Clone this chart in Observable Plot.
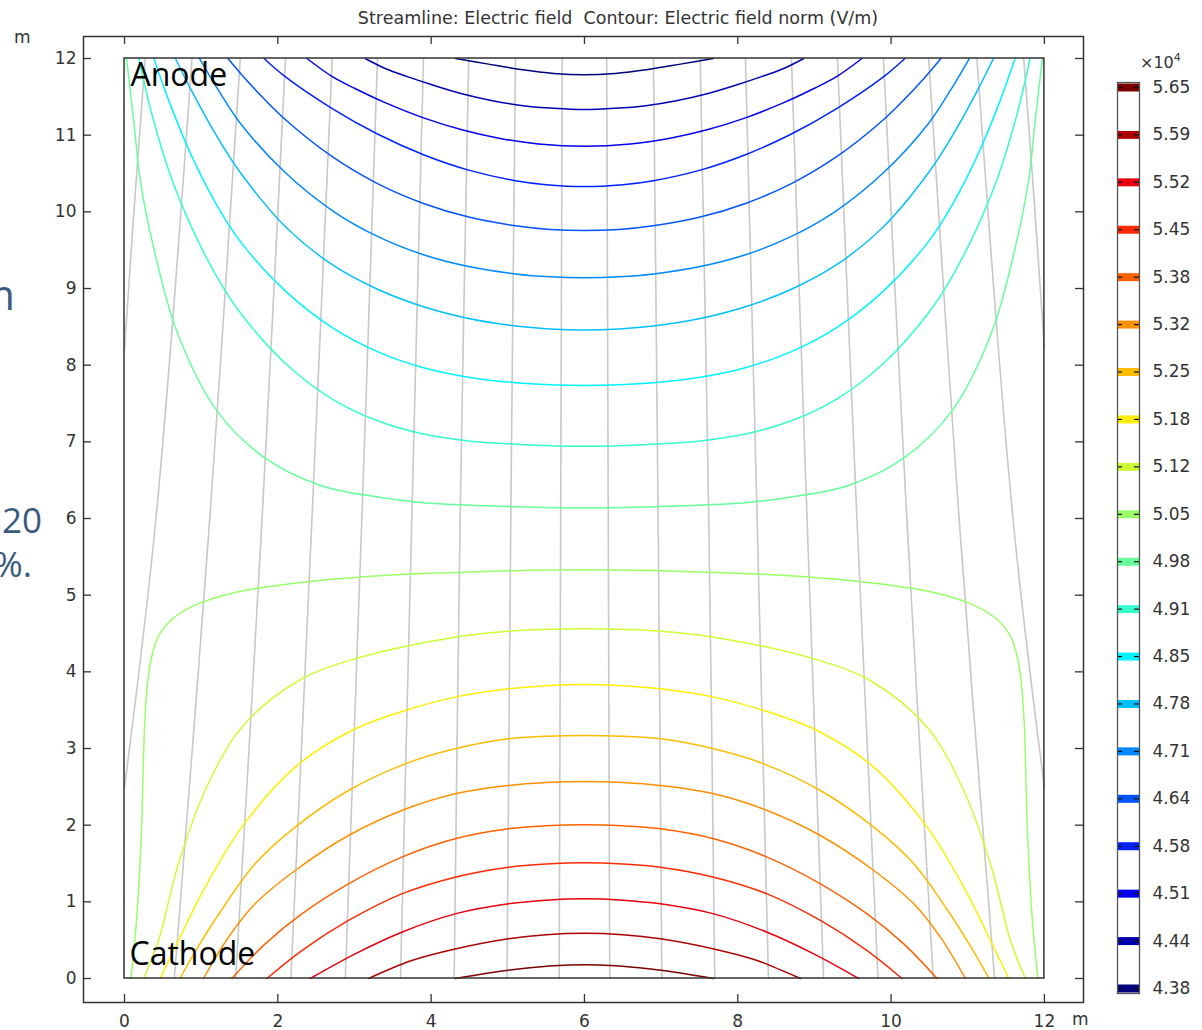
<!DOCTYPE html>
<html><head><meta charset="utf-8">
<script src="https://cdn.jsdelivr.net/npm/d3@7"></script>
<script src="https://cdn.jsdelivr.net/npm/@observablehq/plot@0.6"></script>
<style>
html,body{margin:0;padding:0;background:#fff;}
#wrap{position:relative;width:1202px;height:1030px;overflow:hidden;font-family:"DejaVu Sans",sans-serif;color:#333;}
.abs{position:absolute;white-space:pre;line-height:1;}
.slide{font-family:"Open Sans",sans-serif;color:#3b5b7e;}
</style></head><body>
<div id="wrap">
  <div id="main" class="abs" style="left:0;top:0"></div>
  <div id="cbar" class="abs" style="left:1090px;top:0"></div>
  <div class="abs" style="left:618px;top:10px;transform:translateX(-50%);font-size:17.5px;">Streamline: Electric field  Contour: Electric field norm (V/m)</div>
  <div class="abs" style="left:14px;top:29px;font-size:17px;">m</div>
  <div class="abs" style="left:1072px;top:1011px;font-size:17px;">m</div>
  <div class="abs" style="left:1140px;top:55px;font-size:16px;">×10<span style="font-size:11px;position:relative;top:-7px">4</span></div>
  <div class="abs slide" style="right:1187px;top:273px;font-size:42px;">m</div>
  <div class="abs slide" style="right:1160px;top:502px;font-size:35px;">20</div>
  <div class="abs slide" style="right:1170px;top:546px;font-size:35px;">%.</div>
</div>
<script>
// ---- contour levels (×10^4 V/m) and colours ----
const levels = [4.38,4.44,4.51,4.58,4.64,4.71,4.78,4.85,4.91,4.98,5.05,5.12,5.18,5.25,5.32,5.38,5.45,5.52,5.59,5.65];
const palette = ["#00007a","#0000b0","#0000ee","#0022ff","#0055ff","#0088ff","#00c0ff","#00f4ff","#33ffcc","#66ff99","#99ff66","#ccff33","#ffee00","#ffbb00","#ff9000","#ff6000","#ff2a00","#e8000c","#aa0000","#7a0000"];

// ---- axis ticks / frame extents (m) ----
const xTicks = [0,2,4,6,8,10,12];
const yTicks = [0,1,2,3,4,5,6,7,8,9,10,11,12];
const xFrame = [-0.535, 12.51];
const yFrame = [-0.313, 12.287];
const geometryX = [0, 12];
const geometryY = [0, 12];

// ---- contour lines [x, y] in m ----
const c438 = [[4.32,12],[4.73,11.93],[5.17,11.857],[5.6,11.805],[6,11.787],[6.4,11.805],[6.83,11.857],[7.27,11.93],[7.68,12]];
const c444 = [[3.14,12],[3.4,11.87],[3.7,11.76],[4.0,11.66],[4.4,11.54],[4.8,11.45],[5.2,11.385],[5.6,11.35],[6,11.334],[6.4,11.35],[6.8,11.385],[7.2,11.45],[7.6,11.54],[8.0,11.66],[8.3,11.76],[8.6,11.87],[8.86,12]];
const c451 = [[2.38,12],[2.7,11.771],[3.0,11.612],[3.4,11.424],[3.9,11.226],[4.4,11.071],[4.9,10.958],[5.4,10.886],[6,10.856],[6.6,10.886],[7.1,10.958],[7.6,11.071],[8.1,11.226],[8.6,11.424],[9.0,11.612],[9.3,11.771],[9.62,12]];
const c458 = [[1.82,12],[2.1,11.76],[2.71,11.347],[3.3,11.015],[3.9,10.745],[4.49,10.544],[5.1,10.406],[5.5,10.354],[6,10.33],[6.5,10.354],[6.9,10.406],[7.51,10.544],[8.1,10.745],[8.7,11.015],[9.29,11.347],[9.9,11.76],[10.18,12]];
const c464 = [[1.35,12],[1.5,11.822],[1.8,11.494],[2.1,11.201],[2.71,10.719],[3.3,10.368],[3.9,10.109],[4.49,9.932],[5.1,9.818],[5.55,9.771],[6,9.756],[6.45,9.771],[6.9,9.818],[7.51,9.932],[8.1,10.109],[8.7,10.368],[9.29,10.719],[9.9,11.201],[10.2,11.494],[10.5,11.822],[10.65,12]];
const c471 = [[0.98,12],[1.2,11.628],[1.51,11.156],[2.1,10.509],[2.71,10.017],[3.3,9.679],[3.9,9.44],[4.49,9.286],[5.1,9.19],[5.55,9.152],[6,9.14],[6.45,9.152],[6.9,9.19],[7.51,9.286],[8.1,9.44],[8.7,9.679],[9.29,10.017],[9.9,10.509],[10.49,11.156],[10.8,11.628],[11.02,12]];
const c478 = [[0.665,12],[0.883,11.564],[1.2,10.993],[1.51,10.513],[2.1,9.805],[2.71,9.31],[3.3,8.99],[3.9,8.762],[4.49,8.609],[5.1,8.511],[5.55,8.473],[6,8.46],[6.45,8.473],[6.9,8.511],[7.51,8.609],[8.1,8.762],[8.7,8.99],[9.29,9.31],[9.9,9.805],[10.49,10.513],[10.8,10.993],[11.117,11.564],[11.335,12]];
const c485 = [[0.383,12],[0.6,11.392],[0.883,10.713],[1.2,10.095],[1.51,9.615],[2.1,8.966],[2.71,8.49],[3.3,8.177],[3.9,7.967],[4.49,7.843],[5.1,7.77],[5.55,7.744],[6,7.735],[6.45,7.744],[6.9,7.77],[7.51,7.843],[8.1,7.967],[8.7,8.177],[9.29,8.49],[9.9,8.966],[10.49,9.615],[10.8,10.095],[11.117,10.713],[11.4,11.392],[11.617,12]];
const c491 = [[0.187,12],[0.35,11.299],[0.6,10.474],[0.883,9.781],[1.2,9.163],[1.51,8.683],[2.1,8.022],[2.71,7.558],[3.3,7.275],[3.9,7.101],[4.49,7.012],[5.1,6.969],[5.55,6.95],[6,6.943],[6.45,6.95],[6.9,6.969],[7.51,7.012],[8.1,7.101],[8.7,7.275],[9.29,7.558],[9.9,8.022],[10.49,8.683],[10.8,9.163],[11.117,9.781],[11.4,10.474],[11.65,11.299],[11.813,12]];
const c498 = [[0.026,12],[0.122,11.17],[0.209,10.39],[0.383,9.52],[0.687,8.43],[1.209,7.4],[1.817,6.8],[2.557,6.43],[3.3,6.28],[3.861,6.21],[4.9,6.16],[5.45,6.144],[6,6.139],[6.55,6.144],[7.1,6.16],[8.139,6.21],[8.7,6.28],[9.443,6.43],[10.183,6.8],[10.791,7.4],[11.313,8.43],[11.617,9.52],[11.791,10.39],[11.878,11.17],[11.974,12]];
const c505 = [[0.085,0],[0.16,0.8],[0.22,1.9],[0.262,3.3],[0.3,3.85],[0.355,4.2],[0.45,4.48],[0.6,4.67],[0.9,4.86],[1.47,5.04],[2.34,5.17],[3.43,5.26],[4.73,5.31],[6,5.33],[7.27,5.31],[8.57,5.26],[9.66,5.17],[10.53,5.04],[11.1,4.86],[11.4,4.67],[11.55,4.48],[11.645,4.2],[11.7,3.85],[11.738,3.3],[11.78,1.9],[11.84,0.8],[11.915,0]];
const c512 = [[0.248,0],[0.443,0.496],[0.704,1.496],[1.052,2.452],[1.53,3.278],[2.274,3.887],[3.009,4.17],[4.313,4.452],[5.009,4.53],[5.5,4.553],[6,4.561],[6.5,4.553],[6.991,4.53],[7.687,4.452],[8.991,4.17],[9.726,3.887],[10.47,3.278],[10.948,2.452],[11.296,1.496],[11.557,0.496],[11.752,0]];
const c518 = [[0.465,0],[0.704,0.496],[1.052,1.191],[1.53,1.974],[2.226,2.757],[2.965,3.235],[3.661,3.496],[4.313,3.67],[5.009,3.778],[5.5,3.82],[6,3.835],[6.5,3.82],[6.991,3.778],[7.687,3.67],[8.339,3.496],[9.035,3.235],[9.774,2.757],[10.47,1.974],[10.948,1.191],[11.296,0.496],[11.535,0]];
const c525 = [[0.722,0],[0.957,0.409],[1.261,0.887],[1.704,1.496],[2.226,1.974],[2.922,2.452],[3.661,2.8],[4.313,2.996],[5.009,3.126],[5.5,3.159],[6,3.17],[6.5,3.159],[6.991,3.126],[7.687,2.996],[8.339,2.8],[9.078,2.452],[9.774,1.974],[10.296,1.496],[10.739,0.887],[11.043,0.409],[11.278,0]];
const c532 = [[1.03,0],[1.357,0.539],[1.704,0.974],[2.226,1.409],[2.922,1.865],[3.617,2.191],[4.313,2.409],[5.009,2.517],[5.5,2.556],[6,2.57],[6.5,2.556],[6.991,2.517],[7.687,2.409],[8.383,2.191],[9.078,1.865],[9.774,1.409],[10.296,0.974],[10.643,0.539],[10.97,0]];
const c538 = [[1.4,0],[1.835,0.452],[2.313,0.843],[2.922,1.235],[3.617,1.583],[4.313,1.822],[5.009,1.952],[5.5,1.991],[6,2.004],[6.5,1.991],[6.991,1.952],[7.687,1.822],[8.383,1.583],[9.078,1.235],[9.687,0.843],[10.165,0.452],[10.6,0]];
const c545 = [[1.857,0],[2.313,0.365],[2.922,0.757],[3.617,1.104],[4.313,1.322],[5.009,1.452],[5.5,1.494],[6,1.509],[6.5,1.494],[6.991,1.452],[7.687,1.322],[8.383,1.104],[9.078,0.757],[9.687,0.365],[10.143,0]];
const c552 = [[2.422,0],[3.009,0.322],[3.617,0.604],[4.313,0.843],[5.009,0.974],[5.5,1.022],[6,1.039],[6.5,1.022],[6.991,0.974],[7.687,0.843],[8.383,0.604],[8.991,0.322],[9.578,0]];
const c559 = [[3.183,0],[3.748,0.235],[4.313,0.385],[5.009,0.518],[5.5,0.572],[6,0.591],[6.5,0.572],[6.991,0.518],[7.687,0.385],[8.252,0.235],[8.817,0]];
const c565 = [[4.317,0],[4.73,0.07],[5.165,0.126],[5.6,0.165],[6,0.178],[6.4,0.165],[6.835,0.126],[7.27,0.07],[7.683,0]];

// ---- electric field streamlines [x, y] in m ----
const streamlines = [
  [[0,8.21],[0.13,10.1],[0.27,12]],
  [[0,2.49],[0.41,6.0],[0.88,12]],
  [[0.65,0],[1.12,6.1],[1.51,12]],
  [[1.45,0],[1.8,6.1],[2.1,12]],
  [[2.17,0],[2.45,6.1],[2.71,12]],
  [[2.88,0],[3.1,6.1],[3.3,12]],
  [[3.6,0],[3.75,6.1],[3.9,12]],
  [[4.3,0],[4.38,6.1],[4.49,12]],
  [[4.99,0],[5.04,6.1],[5.1,12]],
  [[5.67,0],[5.69,6.1],[5.71,12]],
  [[6.33,0],[6.31,6.1],[6.29,12]],
  [[7.01,0],[6.96,6.1],[6.9,12]],
  [[7.7,0],[7.62,6.1],[7.51,12]],
  [[8.4,0],[8.25,6.1],[8.1,12]],
  [[9.12,0],[8.9,6.1],[8.7,12]],
  [[9.83,0],[9.55,6.1],[9.3,12]],
  [[10.55,0],[10.2,6.1],[9.9,12]],
  [[11.35,0],[10.88,6.1],[10.49,12]],
  [[12,2.49],[11.59,6.0],[11.12,12]],
  [[12,8.21],[11.87,10.1],[11.73,12]]
];

// ---- electrode labels ----
const electrodeNames = ["Anode", "Cathode"];
const electrodeY = [12, 0];

// ---- build tables ----
const contourSets = [c438,c444,c451,c458,c464,c471,c478,c485,c491,c498,c505,c512,c518,c525,c532,c538,c545,c552,c559,c565];
const contourRows = levels.flatMap((lv, i) => contourSets[i].map(([x, y]) => ({level: lv, x, y})));
const streamRows = streamlines.flatMap((s, i) => s.map(([x, y]) => ({id: i, x, y})));
const geometry = [{x1: geometryX[0], x2: geometryX[1], y1: geometryY[0], y2: geometryY[1]}];
const electrodes = electrodeNames.map((name, i) => ({name, x: geometryX[0], y: electrodeY[i]}));

const main = Plot.plot({
  width: 1202, height: 1030,
  marginLeft: 83, marginRight: 119, marginTop: 36, marginBottom: 28,
  style: {fontFamily: "DejaVu Sans", fontSize: "17px", color: "#333", background: "transparent"},
  x: {domain: xFrame, label: null},
  y: {domain: yFrame, label: null},
  color: {type: "ordinal", domain: levels, range: palette},
  marks: [
    Plot.line(streamRows, {x: "x", y: "y", z: "id", stroke: "#c8c8c8", strokeWidth: 1.6, curve: "catmull-rom"}),
    Plot.line(contourRows, {x: "x", y: "y", z: "level", stroke: "level", strokeWidth: 1.5, curve: "catmull-rom"}),
    Plot.rect(geometry, {x1: "x1", x2: "x2", y1: "y1", y2: "y2", fill: "none", stroke: "#333", strokeWidth: 1.5}),
    Plot.text([electrodes[0]], {x: "x", y: "y", text: "name", textAnchor: "start", lineAnchor: "top", dx: 6, dy: 5, fontSize: 32, fontFamily: "Open Sans", fill: "black"}),
    Plot.text([electrodes[1]], {x: "x", y: "y", text: "name", textAnchor: "start", lineAnchor: "bottom", dx: 5, dy: -14, fontSize: 32, fontFamily: "Open Sans", fill: "black"}),
    Plot.frame({stroke: "#333", strokeWidth: 1.5}),
    Plot.tickX(xTicks, {x: d => d, insetTop: 958, stroke: "#333", strokeWidth: 1.3}),
    Plot.tickX(xTicks, {x: d => d, insetBottom: 958, stroke: "#333", strokeWidth: 1.3}),
    Plot.tickY(yTicks, {y: d => d, insetRight: 992, stroke: "#333", strokeWidth: 1.3}),
    Plot.tickY(yTicks, {y: d => d, insetLeft: 992, stroke: "#333", strokeWidth: 1.3}),
    Plot.axisX({ticks: xTicks, anchor: "bottom", tickSize: 0, tickPadding: 12, fontSize: 17, label: null, tickFormat: d => d}),
    Plot.axisY({ticks: yTicks, anchor: "left", tickSize: 0, tickPadding: 7, fontSize: 17, label: null, tickFormat: d => d})
  ]
});
document.getElementById("main").appendChild(main);

const cbar = Plot.plot({
  width: 112, height: 1030,
  marginLeft: 27, marginRight: 63, marginTop: 87, marginBottom: 42,
  style: {fontFamily: "DejaVu Sans", fontSize: "17px", color: "#333", background: "transparent", overflow: "visible"},
  x: {domain: [0, 1], axis: null},
  y: {type: "point", domain: [...levels].reverse(), padding: 0, round: false, axis: null},
  color: {type: "ordinal", domain: levels, range: palette},
  marks: [
    Plot.tickY(levels, {y: d => d, stroke: d => d, strokeWidth: 8}),
    Plot.tickY(levels, {y: d => d, stroke: "#111", strokeWidth: 1.2, insetRight: 17}),
    Plot.tickY(levels, {y: d => d, stroke: "#111", strokeWidth: 1.2, insetLeft: 17}),
    Plot.frame({stroke: "#555", strokeWidth: 1.3, insetTop: -5, insetBottom: -5}),
    Plot.text(levels, {y: d => d, text: d => d.toFixed(2), frameAnchor: "right", dx: 13, textAnchor: "start", fontSize: 17, fill: "#333"})
  ]
});
document.getElementById("cbar").appendChild(cbar);
</script>
</body></html>
